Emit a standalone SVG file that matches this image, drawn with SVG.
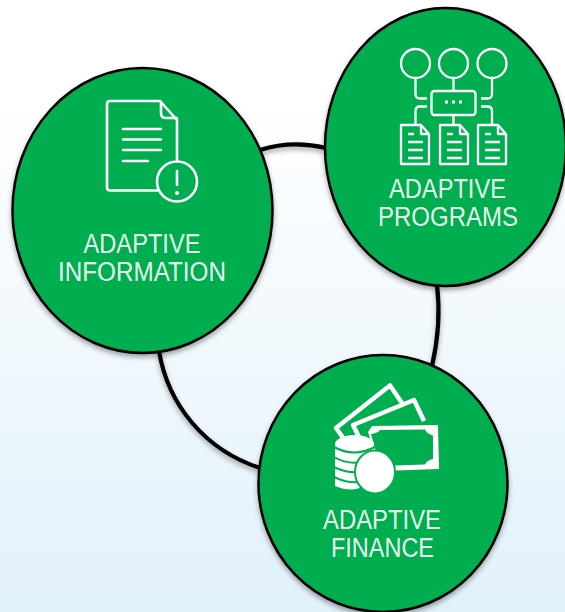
<svg xmlns="http://www.w3.org/2000/svg" width="565" height="612" viewBox="0 0 565 612">
<style>
.disc{fill:#00ad50;stroke:#000;stroke-width:2.5;filter:url(#sh)}
.con{fill:none;stroke:#000;stroke-width:4.2;stroke-linecap:butt}
.lbl{font-family:"Liberation Sans",Arial,sans-serif;font-size:27px;fill:#fff;fill-opacity:.93;text-anchor:middle}
.ln{fill:none;stroke:#fff;stroke-width:2.6;stroke-linecap:round;stroke-linejoin:round}
.thin{fill:none;stroke:#fff;stroke-width:2.3;stroke-linejoin:round}
.band{fill:none;stroke:#fff;stroke-width:4.5;stroke-linejoin:round}
.arc{fill:none;stroke:#00ad50;stroke-width:2}
.w{fill:#fff}
.g{fill:#00ad50}
</style>
<defs>
<linearGradient id="bg" x1="0" y1="0" x2="0" y2="1">
<stop offset="0.15" stop-color="#fff"/>
<stop offset="1" stop-color="#e1f1fa"/>
</linearGradient>
<filter id="sh" x="-15%" y="-15%" width="130%" height="130%">
<feDropShadow dx="0" dy="3" stdDeviation="2.5" flood-color="#000" flood-opacity="0.35"/>
</filter>
<g id="doc">
<path class="thin" d="M0 0H20L28 9V39H0Z"/>
<path class="thin" stroke-width="1.6" d="M20 0V9H28"/>
<path class="thin" d="M7 9H13M7 17H22M7 25H22M7 33H22"/>
</g>
</defs>
<rect width="565" height="612" fill="url(#bg)"/>
<g id="connectors" filter="url(#sh)">
<path class="con" d="M260 150Q292 140 326 148"/>
<path class="con" d="M437 285C440 310 438 340 432 366"/>
<path class="con" d="M159 351C168 405 205 450 260 468"/>
</g>
<g id="adaptive-information">
<ellipse class="disc" cx="142.500" cy="210.500" rx="130" ry="142.500"/>
<path class="ln" d="M157 190.500H110Q107 190.500 107 187.500V104Q107 101 110 101H160L177 120V160"/>
<path class="ln" stroke-width="2" d="M161 102V113Q161 118 166 118H177"/>
<path class="ln" d="M123 129H161M123 139.500H161M123 150H161M123 161H148"/>
<circle class="ln" cx="177" cy="181.500" r="20"/>
<path class="ln" d="M177 171V185"/>
<circle class="w" cx="177" cy="193" r="2"/>
<text class="lbl"><tspan x="142" y="253" textLength="117" lengthAdjust="spacingAndGlyphs">ADAPTIVE</tspan><tspan x="142" y="281" textLength="168" lengthAdjust="spacingAndGlyphs">INFORMATION</tspan></text>
</g>
<g id="adaptive-programs">
<ellipse class="disc" cx="445.500" cy="147" rx="120.500" ry="139"/>
<circle class="thin" cx="415.500" cy="63.500" r="14.500"/>
<circle class="thin" cx="453.500" cy="63.500" r="14.500"/>
<circle class="thin" cx="492" cy="63.500" r="14.500"/>
<rect class="thin" x="431.500" y="91" width="44" height="24" rx="3"/>
<path class="w" d="M445 100.500h3v3h-3zM452 100.500h3v3h-3zM459 100.500h3v3h-3z"/>
<path class="thin" d="M415.500 78V94Q415.500 98.500 420 98.500H427M453.500 78V91M492 78V94Q492 98.500 487.500 98.500H481M427 106.500H420Q415.500 106.500 415.500 111V125M453.500 115V125M481 106.500H487.500Q492 106.500 492 111V125"/>
<use href="#doc" x="401" y="125"/>
<use href="#doc" x="440" y="125"/>
<use href="#doc" x="478" y="125"/>
<text class="lbl"><tspan x="447.500" y="197.500" textLength="117" lengthAdjust="spacingAndGlyphs">ADAPTIVE</tspan><tspan x="448" y="225.500" textLength="140" lengthAdjust="spacingAndGlyphs">PROGRAMS</tspan></text>
</g>
<g id="adaptive-finance">
<ellipse class="disc" cx="383" cy="483.500" rx="124.500" ry="128.500"/>
<path class="band" d="M344 439L336 428L390 385.500L404 406"/>
<path class="band" d="M359 437L353 425L414 400L424 421"/>
<path class="w" d="M368 432L372 426L438 425L439 469L380 471Z"/>
<path class="g" d="M371 434Q378 433 380 430L425 429.500Q427 434 433 435.500V459Q427 460 425 464.500L380 466Z"/>
<path class="w" d="M335 444A19.500 9 0 0 1 374 444V452H366V484Q354 494 335 486Z"/>
<path class="arc" d="M334 447Q354 458 375 447M334 457Q350 466 366 461M334 467Q350 475 366 471M334 477Q350 485 366 481"/>
<ellipse class="w" stroke="#00ad50" stroke-width="2" cx="375" cy="472" rx="20" ry="21.500"/>
<text class="lbl"><tspan x="382" y="528.500" textLength="118" lengthAdjust="spacingAndGlyphs">ADAPTIVE</tspan><tspan x="382.500" y="556.500" textLength="103" lengthAdjust="spacingAndGlyphs">FINANCE</tspan></text>
</g>
</svg>
